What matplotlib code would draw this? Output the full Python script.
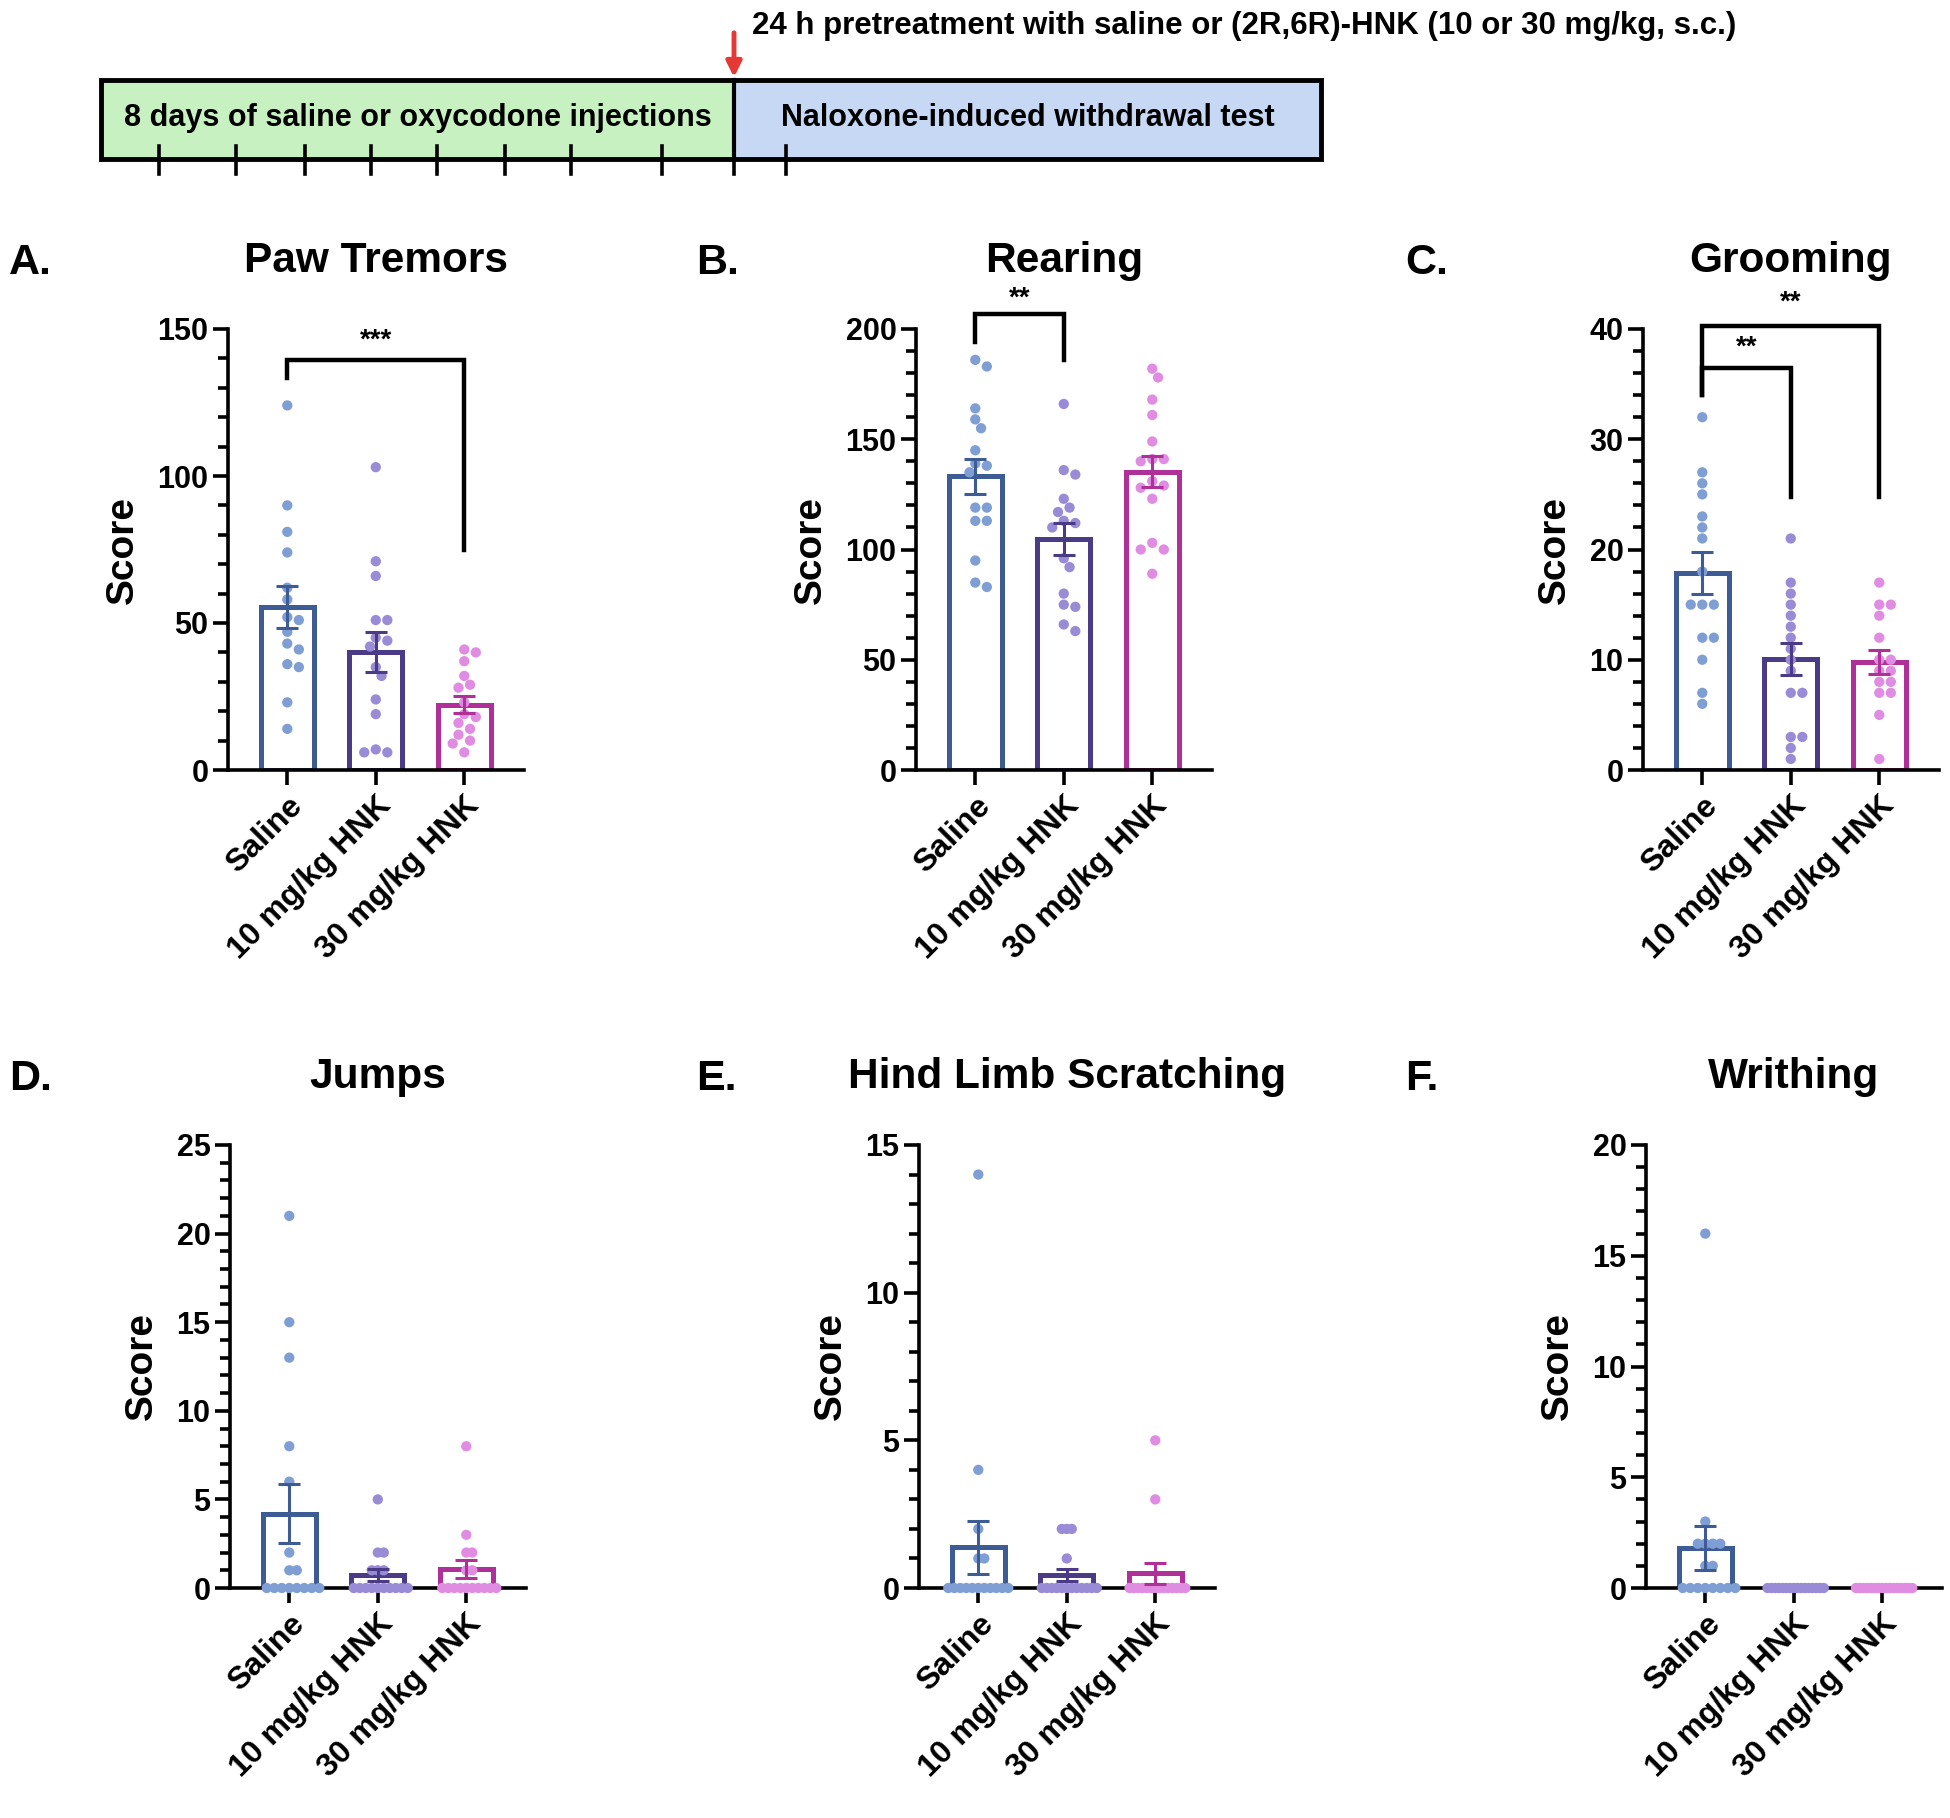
import numpy as np
import matplotlib
matplotlib.use("Agg")
import matplotlib.pyplot as plt
from matplotlib.patches import Rectangle
from matplotlib.ticker import MultipleLocator
import matplotlib.transforms as mtransforms

plt.rcParams['font.family'] = ['Liberation Sans', 'DejaVu Sans']
plt.rcParams['font.weight'] = 'bold'

# ---------------- data ----------------
groups = ["Saline", "10 mg/kg HNK", "30 mg/kg HNK"]

paw_saline = [124, 90, 81, 74, 62, 58, 52, 51, 47, 43, 41, 36, 35, 23, 14]
paw_10 = [103, 71, 66, 51, 51, 45, 44, 42, 35, 32, 24, 19, 7, 6, 6]
paw_30 = [41, 40, 37, 32, 29, 28, 23, 19, 18, 16, 14, 12, 10, 9, 6]

rear_saline = [186, 183, 164, 159, 155, 145, 139, 138, 135, 119, 119, 113, 113, 95, 85, 83]
rear_10 = [166, 136, 134, 123, 119, 117, 113, 112, 110, 96, 92, 80, 75, 74, 66, 63]
rear_30 = [182, 178, 168, 161, 149, 141, 141, 140, 131, 129, 128, 123, 103, 100, 100, 89]

groom_saline = [32, 27, 26, 25, 23, 22, 21, 18, 15, 15, 15, 12, 12, 10, 7, 6]
groom_10 = [21, 17, 16, 15, 14, 13, 12, 11, 10, 9, 7, 7, 3, 3, 2, 1]
groom_30 = [17, 15, 15, 14, 12, 10, 10, 9, 9, 8, 8, 7, 7, 5, 1]

jump_saline = [21, 15, 13, 8, 6, 2, 1, 1, 0, 0, 0, 0, 0, 0, 0, 0]
jump_10 = [5, 2, 2, 1, 1, 1, 0, 0, 0, 0, 0, 0, 0, 0, 0, 0]
jump_30 = [8, 3, 2, 2, 1, 1, 0, 0, 0, 0, 0, 0, 0, 0, 0, 0]

scratch_saline = [14, 4, 2, 1, 1, 0, 0, 0, 0, 0, 0, 0, 0, 0, 0, 0]
scratch_10 = [2, 2, 2, 1, 0, 0, 0, 0, 0, 0, 0, 0, 0, 0, 0, 0]
scratch_30 = [5, 3, 0, 0, 0, 0, 0, 0, 0, 0, 0, 0, 0, 0, 0, 0]

writhe_saline = [16, 3, 2, 2, 2, 2, 1, 1, 0, 0, 0, 0, 0, 0, 0, 0]
writhe_10 = [0] * 16
writhe_30 = [0] * 16

panel_titles = ["Paw Tremors", "Rearing", "Grooming",
                "Jumps", "Hind Limb Scratching", "Writhing"]
panel_letters = ["A.", "B.", "C.", "D.", "E.", "F."]
panel_data = [
    [paw_saline, paw_10, paw_30],
    [rear_saline, rear_10, rear_30],
    [groom_saline, groom_10, groom_30],
    [jump_saline, jump_10, jump_30],
    [scratch_saline, scratch_10, scratch_30],
    [writhe_saline, writhe_10, writhe_30],
]
y_max = [150, 200, 40, 25, 15, 20]
y_major = [50, 50, 10, 5, 5, 5]
y_minor = [10, 10, 2, 1, 1, 1]

# significance annotations: (group_a, group_b, bracket level, left end, right end, label, label level)
sig = {
    0: [(0, 2, 139.5, 133.5, 75, "***", 146)],
    1: [(0, 1, 207, 194, 186, "**", 214)],
    2: [(0, 1, 36.5, 34, 24.8, "**", 38.3), (0, 2, 40.3, 34, 24.8, "**", 42.4)],
}

edge_colors = ["#3d5c96", "#4b3a86", "#b0309a"]
dot_colors = ["#7f9fd4", "#9a8bd6", "#e08ce2"]

# ---------------- layout ----------------
W, H = 1950, 1818
fig = plt.figure(figsize=(W / 100, H / 100), dpi=100)

ax_w = 296 / W
row_specs = [(329, 770), (1145, 1588)]
col_lefts = [[228, 916, 1643], [230, 919, 1646]]
xlo, xhi = -0.67, 2.675


def swarm(vals, xs_px, ys_px, diam, maxoff):
    vals = np.asarray(vals, float)
    order = np.argsort(-vals, kind="stable")
    placed = []
    offs = np.zeros(len(vals))
    cands = [0.0]
    for j in range(1, 40):
        cands += [j * diam * 0.55, -j * diam * 0.55]
    for i in order:
        y = vals[i] * ys_px
        for c in cands:
            if all((c - px) ** 2 + (y - py) ** 2 >= (diam * 0.98) ** 2 for px, py in placed):
                break
        placed.append((c, y))
        offs[i] = c
    m = np.max(np.abs(offs)) if len(offs) else 0
    if m > maxoff:
        offs = offs * maxoff / m
    return offs / xs_px


for p in range(6):
    r, c = divmod(p, 3)
    top, bot = row_specs[r]
    left = col_lefts[r][c]
    ax = fig.add_axes([left / W, 1 - bot / H, ax_w, (bot - top) / H])
    ax.set_xlim(xlo, xhi)
    ax.set_ylim(0, y_max[p])
    xs_px = 296 / (xhi - xlo)
    ys_px = (bot - top) / y_max[p]
    xpos = np.arange(3)
    for g in range(3):
        vals = np.asarray(panel_data[p][g], float)
        mean = vals.mean()
        sem = vals.std(ddof=1) / np.sqrt(len(vals)) if vals.std() > 0 else 0
        ax.bar(xpos[g], mean, width=0.6, facecolor="white", edgecolor=edge_colors[g],
               linewidth=3.6, zorder=2)
        offs = swarm(vals, xs_px, ys_px, 10.5, 30)
        ax.scatter(xpos[g] + offs, vals, s=55, color=dot_colors[g], edgecolor="none",
                   zorder=3, clip_on=False)
        if sem > 0:
            ax.errorbar(xpos[g], mean, yerr=sem, fmt="none", ecolor=edge_colors[g],
                        elinewidth=2.2, capsize=8, capthick=2.2, zorder=4)
    for s in ["top", "right"]:
        ax.spines[s].set_visible(False)
    for s in ["left", "bottom"]:
        ax.spines[s].set_linewidth(2.6)
    ax.yaxis.set_major_locator(MultipleLocator(y_major[p]))
    ax.yaxis.set_minor_locator(MultipleLocator(y_minor[p]))
    ax.tick_params(axis="y", which="major", length=11, width=2.6, labelsize=22, pad=3)
    ax.tick_params(axis="y", which="minor", length=7, width=2.6)
    ax.tick_params(axis="x", which="major", length=11, width=2.6, labelsize=23, pad=4)
    ax.set_xticks(xpos)
    ax.set_xticklabels(groups, rotation=45, ha="right", rotation_mode="anchor",
                       fontweight="bold")
    for lab in ax.get_yticklabels():
        lab.set_fontweight("bold")
    ax.set_ylabel("Score", fontsize=28, fontweight="bold", labelpad=12)
    trans = mtransforms.blended_transform_factory(ax.transData, ax.transAxes)
    ax.text(1, 1 + 68 / (bot - top), panel_titles[p], transform=trans, ha="center",
            va="center", fontsize=30.5, fontweight="bold")
    fig.text((9 if c == 0 else (696 if c == 1 else 1405)) / W, 1 - (top - 66) / H,
             panel_letters[p], ha="left", va="center", fontsize=31, fontweight="bold")
    for (a, b, lvl, la, lb, lab, ly) in sig.get(p, []):
        ax.plot([a, a, b, b], [la, lvl, lvl, lb], color="black", lw=3.2,
                clip_on=False, zorder=5, solid_joinstyle="miter")
        ax.text((a + b) / 2, ly, lab, ha="center", va="center", fontsize=20,
                fontweight="bold", clip_on=False)

# ---------------- timeline schematic ----------------
tl = fig.add_axes([0, 0, 1, 1], zorder=-1)
tl.set_xlim(0, W)
tl.set_ylim(H, 0)
tl.axis("off")
bx0, bx1, bdiv, by0, by1 = 101, 1321, 734, 80, 159
tl.add_patch(Rectangle((bx0, by0), bdiv - bx0, by1 - by0, facecolor="#c8f1c2",
                       edgecolor="none"))
tl.add_patch(Rectangle((bdiv, by0), bx1 - bdiv, by1 - by0, facecolor="#c6d8f3",
                       edgecolor="none"))
tl.add_patch(Rectangle((bx0, by0), bx1 - bx0, by1 - by0, facecolor="none",
                       edgecolor="black", lw=3.5))
tl.plot([bdiv, bdiv], [by0, by1], color="black", lw=3)
for tx in [159, 236, 305, 371, 437, 505, 571, 662, 734, 786]:
    tl.plot([tx, tx], [146, 174], color="black", lw=2.6)
tl.text((bx0 + bdiv) / 2, 118, "8 days of saline or oxycodone injections", ha="center",
        va="center", fontsize=22, fontweight="bold")
tl.text((bdiv + bx1) / 2, 118, "Naloxone-induced withdrawal test", ha="center",
        va="center", fontsize=22, fontweight="bold")
tl.annotate("", xy=(bdiv, 80), xytext=(bdiv, 30),
            arrowprops=dict(arrowstyle="-|>,head_length=0.9,head_width=0.45",
                            color="#e53935", lw=3.5))
tl.text(752, 26, "24 h pretreatment with saline or (2R,6R)-HNK (10 or 30 mg/kg, s.c.)",
        ha="left", va="center", fontsize=22.5, fontweight="bold")

fig.savefig("out.png", dpi=100)
